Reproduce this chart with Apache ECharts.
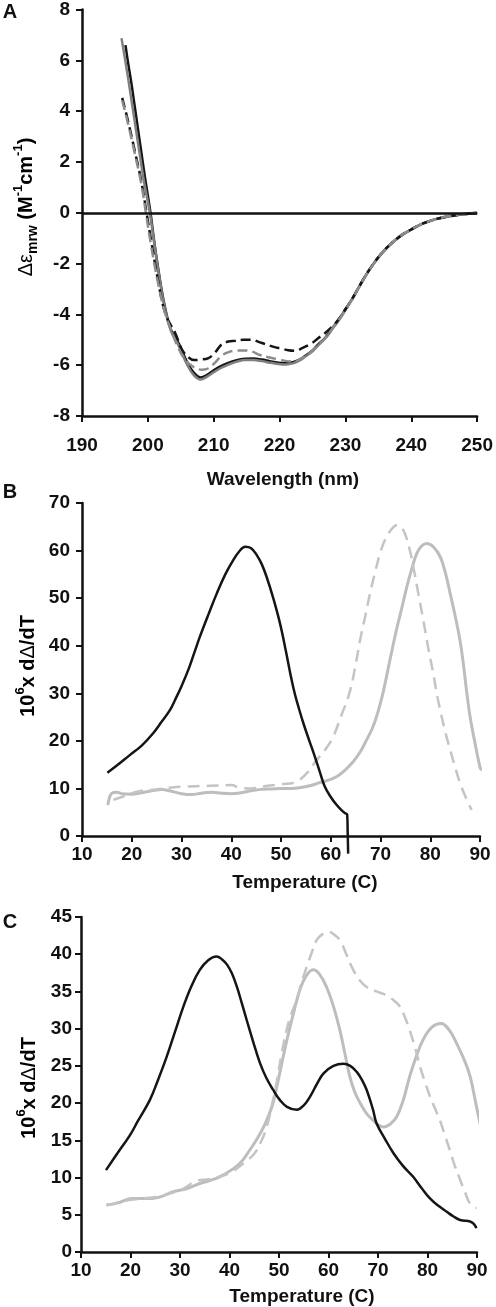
<!DOCTYPE html>
<html>
<head>
<meta charset="utf-8">
<script src="https://cdn.jsdelivr.net/npm/echarts@6/dist/echarts.min.js"></script>
<style>
html,body{margin:0;padding:0;background:#fff;}
#chart{width:496px;height:1307px;}
</style>
</head>
<body>
<div id="chart"></div>
<script>
// ---------- Panel A: CD spectra (wavelength nm, Δε) ----------
const aBlackSolid = [[196.6,6.6],[197,5.9],[197.5,5.1],[198,4.2],[198.5,3.3],[199,2.4],[199.5,1.5],[200.4,0],[201,-1.2],[202,-2.9],[202.7,-3.84],[203.5,-4.6],[204.7,-5.15],[206,-5.9],[207,-6.3],[208,-6.48],[209,-6.38],[210,-6.2],[211,-6.05],[212.3,-5.9],[213.5,-5.8],[214.8,-5.75],[216,-5.74],[217.3,-5.78],[218.5,-5.84],[219.8,-5.9],[221,-5.92],[222,-5.88],[223,-5.78],[223.8,-5.65],[225,-5.42],[225.8,-5.2],[227,-4.9],[228,-4.55],[229,-4.2],[230,-3.8],[231,-3.4],[232,-2.95],[233,-2.5],[234,-2.1],[235,-1.75],[236,-1.45],[237,-1.2],[238,-0.98],[239,-0.8],[240,-0.66],[241,-0.52],[242,-0.4],[243,-0.31],[244,-0.23],[245,-0.18],[246,-0.13],[247,-0.09],[248,-0.06],[249,-0.03],[250,-0.01]];
const aGraySolid = [[196,6.87],[196.5,6.1],[197,5.3],[197.5,4.45],[198,3.6],[198.5,2.75],[199,1.9],[199.5,1.1],[200.3,0],[201,-1.25],[202,-2.95],[202.7,-3.9],[203.5,-4.65],[204.7,-5.25],[206,-6.0],[207,-6.4],[208,-6.56],[209,-6.45],[210,-6.28],[211,-6.12],[212.3,-5.97],[213.5,-5.86],[214.8,-5.8],[216,-5.8],[217.3,-5.84],[218.5,-5.9],[219.8,-5.95],[221,-5.97],[222,-5.93],[223,-5.82],[223.8,-5.68],[225,-5.45],[225.8,-5.24],[227,-4.93],[228,-4.58],[229,-4.23],[230,-3.83],[231,-3.42],[232,-2.97],[233,-2.52],[234,-2.12],[235,-1.77],[236,-1.47],[237,-1.21],[238,-0.99],[239,-0.81],[240,-0.66],[241,-0.52],[242,-0.4],[243,-0.31],[244,-0.23],[245,-0.17],[246,-0.12],[247,-0.08],[248,-0.05],[249,-0.02],[250,0]];
const aBlackDashed = [[196.1,4.52],[197,3.6],[198,2.45],[199,1.25],[199.8,0],[200.5,-1.1],[201.5,-2.6],[202.7,-4.0],[204.2,-4.76],[205.2,-5.4],[206.2,-5.7],[207,-5.8],[208,-5.78],[209.2,-5.72],[210.2,-5.5],[211.2,-5.18],[212.2,-5.07],[213.3,-5.04],[214.5,-5.0],[215.8,-5.0],[216.8,-5.08],[217.8,-5.17],[219,-5.27],[220.3,-5.35],[221.3,-5.41],[222.3,-5.43],[223.5,-5.32],[224.8,-5.15],[225.8,-4.95],[226.8,-4.76],[228,-4.48],[229,-4.18],[230,-3.8],[231,-3.4],[232,-2.95],[233,-2.5],[234,-2.1],[235,-1.75],[236,-1.45],[237,-1.2],[238,-0.98],[239,-0.8],[240,-0.66],[241,-0.52],[242,-0.4],[243,-0.31],[244,-0.23],[245,-0.18],[246,-0.13],[247,-0.09],[248,-0.06],[249,-0.03],[250,-0.01]];
const aGrayDashed = [[196.1,4.42],[197,3.5],[198,2.35],[199,1.15],[199.7,0],[200.5,-1.3],[201.5,-2.7],[202.5,-3.84],[203.5,-4.6],[204.6,-5.3],[205.7,-5.8],[207,-6.08],[208.2,-6.18],[209.2,-6.12],[210.2,-5.9],[211.2,-5.62],[212.3,-5.48],[213.3,-5.43],[214.5,-5.42],[215.8,-5.46],[217,-5.6],[218.5,-5.7],[220,-5.78],[221.5,-5.85],[222.5,-5.83],[223.8,-5.66],[225,-5.43],[225.8,-5.22],[227,-4.92],[228,-4.57],[229,-4.22],[230,-3.82],[231,-3.41],[232,-2.96],[233,-2.51],[234,-2.11],[235,-1.76],[236,-1.46],[237,-1.2],[238,-0.98],[239,-0.8],[240,-0.66],[241,-0.52],[242,-0.4],[243,-0.31],[244,-0.23],[245,-0.17],[246,-0.12],[247,-0.08],[248,-0.05],[249,-0.02],[250,0]];

// ---------- Panel B: thermal derivative (T °C, 10^6 x dΔ/dT) ----------
const bBlackSolid = [[15.1,13.3],[17,14.8],[19.6,17.0],[22,19.0],[24.3,21.6],[26,24],[27.7,26.5],[28.7,28.6],[30,31.5],[31.5,35.3],[32.6,38.6],[33.7,41.9],[35.5,46.8],[37.1,51],[38.8,55],[40.4,58],[41.6,59.8],[42.8,60.8],[44,60.5],[45.1,59.1],[46.1,57.2],[47.1,54.5],[48.5,49.8],[49.8,44.7],[51,38.8],[52,33.5],[52.8,29.8],[53.6,26.8],[54.5,23.7],[55.7,20],[56.8,16.7],[57.8,13.5],[58.8,10.4],[60,8.2],[61.2,6.5],[62.1,5.5],[62.9,4.8],[63.3,4.5],[63.4,1],[63.5,-3.7]];
const bGraySolid = [[15.2,6.5],[15.5,8],[16,9],[17,9.2],[18,8.9],[20,8.8],[22,9.1],[24,9.5],[26,9.8],[28,9.4],[30,8.9],[32,8.7],[34,9.0],[36,9.2],[38,9.0],[40,8.9],[42,9.1],[44,9.5],[46,9.8],[48,9.9],[50,10.0],[52,10.0],[54,10.2],[56,10.6],[58,11.3],[60.5,12.1],[62.5,13.5],[64.5,15.6],[66,17.8],[67.2,20.2],[68.3,22.5],[69.2,25.1],[70,28],[70.6,30.5],[71.9,37],[73.2,43.3],[74.3,48],[75.3,52.4],[76.3,56.2],[77.3,59.4],[78.3,61],[79.3,61.5],[80.6,60.8],[82,58.7],[83,55.5],[84,51],[85,46.3],[86,41],[86.7,35.8],[87.3,30.5],[88,25.1],[89,19.5],[90,14.5],[90.4,13.8]];
const bGrayDashed = [[16.3,7.6],[18,8.2],[20,9.0],[22,9.5],[25,9.8],[28,10.2],[30.8,10.4],[34,10.5],[37.5,10.6],[40,10.7],[41.6,10.2],[44,10.0],[47,10.5],[50,10.9],[52.8,11.3],[55,13],[57.2,16],[59,18.3],[60.5,20.9],[62,25],[63.8,30.2],[65,36],[65.9,41.2],[67,46.5],[67.9,51],[69,55.8],[69.9,59.4],[70.8,62],[71.6,63.6],[72.5,64.8],[73.3,65.4],[74.1,64.9],[74.9,63.6],[75.8,60.5],[76.6,56.6],[77.6,51],[78.6,45.4],[79.6,39.5],[80.6,34.2],[81.3,30],[82,26.5],[83,22],[84,18.1],[85,14.5],[86,11.1],[87.2,8],[88.3,5.5]];

// ---------- Panel C ----------
const cBlackSolid = [[15.05,11.0],[17.5,13.4],[19.9,15.7],[21.5,17.6],[23.9,20.4],[25.5,23],[27.3,26.2],[29,29.6],[30.7,33],[32.3,35.7],[34,37.9],[35.7,39.2],[37.4,39.7],[38.5,39.3],[39.5,38.6],[40.5,37.4],[41.5,35.6],[42.5,33.4],[43.5,31.1],[44.8,28.2],[46.2,25.3],[47.5,23.3],[48.8,21.8],[50.2,20.4],[51.6,19.5],[53.6,19.1],[55,19.7],[56.3,20.9],[57.6,22.5],[59,24],[61,25],[63,25.3],[64.4,25],[65.7,24.2],[66.7,23.2],[67.7,21.8],[69,19.1],[69.7,17.3],[71.4,15.2],[73.1,13.3],[75,11.6],[77.1,10.1],[78.8,8.6],[80.5,7.2],[82.2,6.2],[83.9,5.4],[85.2,4.8],[86.6,4.3],[88.6,4.1],[89.3,3.8],[89.9,3.2]];
const cGraySolid = [[15.1,6.3],[17.5,6.6],[20.4,7.2],[24.4,7.2],[26.5,7.5],[28.6,8.1],[31.3,8.5],[34,9.2],[36,9.6],[38,10.1],[40.8,11.2],[42.5,12.2],[44.1,13.7],[45.5,15.1],[46.9,16.8],[48,18.5],[48.8,20],[50.2,24.2],[51.6,28.5],[52.9,32],[54.2,35.2],[55.5,37.1],[56.9,37.9],[58.2,37.3],[59.6,35.6],[61,33],[62.3,29.8],[63.3,26.7],[64.3,23.6],[65.3,21.5],[66.4,20],[67.7,18.6],[69,17.7],[70,17.1],[71.1,16.8],[72.5,17.2],[73.8,18.2],[75.1,20.4],[76.4,23.6],[77.7,26.2],[79.1,28.5],[80.9,30.2],[82.8,30.7],[84.4,29.8],[85.9,28],[87.3,26],[88.6,23.6],[89.9,19.5],[90.6,17.3],[91.2,15.5]];
const cGrayDashed = [[15.3,6.3],[20,7.0],[25,7.4],[30,8.3],[33.5,9.6],[36,9.8],[40,10.6],[43,12.0],[45,13.2],[46.5,15],[47.6,17],[48.5,19.5],[49.5,22.7],[50.5,26.5],[51.6,30],[52.6,32.2],[53.6,33.9],[54.6,36.3],[55.6,38.3],[56.6,40.2],[57.6,41.9],[58.8,42.7],[60,43],[61.2,42.6],[62.3,41.9],[63.6,40],[65,37.9],[66.3,36.5],[67.7,35.6],[69.7,35],[71.7,34.5],[73,33.9],[74.4,33],[75.4,31.6],[76.4,29.8],[77.5,27.4],[78.5,24.9],[79.5,22.8],[80.5,20.9],[81.5,19.3],[82.5,17.7],[83.5,15.7],[84.5,13.7],[85.5,11.6],[86.6,9.7],[87.6,8],[88.6,6.5],[89.9,5.9]];

// ---------- Axis ranges / labels ----------
const aXRange = [190, 250, 10];
const aYRange = [-8, 8, 2];
const bXRange = [10, 90, 10];
const bYRange = [0, 70, 10];
const cXRange = [10, 90, 10];
const cYRange = [0, 45, 5];
const panelLabels = ['A', 'B', 'C'];
const aXTitle = 'Wavelength (nm)';
const tempTitle = 'Temperature (C)';

const FONT = 'Liberation Sans, Arial, sans-serif';
const INK = '#111111';

function axisCfg(gi, r, fs, margin) {
  return {
    type: 'value', gridIndex: gi, min: r[0], max: r[1], interval: r[2],
    axisLine: { show: true, onZero: false, lineStyle: { color: INK, width: 2.5 } },
    axisTick: { show: true, length: 6, lineStyle: { color: INK, width: 2 } },
    axisLabel: { color: INK, fontFamily: FONT, fontWeight: 'bold', fontSize: fs, margin: margin, showMinLabel: true, showMaxLabel: true },
    splitLine: { show: false }
  };
}
function line(gi, data, color, width, dash, extra) {
  return Object.assign({
    type: 'line', xAxisIndex: gi, yAxisIndex: gi, data: data,
    showSymbol: false, symbol: 'none', smooth: 0.4, clip: false, silent: true,
    animation: false,
    lineStyle: { color: color, width: width, type: dash || 'solid' }
  }, extra || {});
}

const chart = echarts.init(document.getElementById('chart'), null, { renderer: 'canvas' });

const yTitleRich = {
  g: { fontFamily: FONT, fontSize: 20, fontWeight: 'normal', color: INK, lineHeight: 24, verticalAlign: 'bottom' },
  n: { fontFamily: FONT, fontSize: 20, fontWeight: 'bold', color: INK, lineHeight: 24, verticalAlign: 'bottom' },
  s: { fontFamily: FONT, fontSize: 14, fontWeight: 'bold', color: INK, lineHeight: 12, verticalAlign: 'bottom', padding: [0,0,-4,0] },
  p: { fontFamily: FONT, fontSize: 13, fontWeight: 'bold', color: INK, lineHeight: 12, verticalAlign: 'top' }
};

function labelText(x, y, t, size) {
  return { type: 'text', x: x, y: y, silent: true,
    style: { text: t, fill: INK, font: 'bold ' + size + 'px ' + FONT, align: 'center', verticalAlign: 'middle' } };
}

const option = {
  backgroundColor: '#ffffff',
  animation: false,
  grid: [
    { left: 82, top: 8, width: 399, height: 408 },
    { left: 82, top: 503, width: 398, height: 333 },
    { left: 81, top: 917, width: 396, height: 335 }
  ],
  xAxis: [axisCfg(0, aXRange, 19, 20), axisCfg(1, bXRange, 19, 9), axisCfg(2, cXRange, 19, 9)],
  yAxis: [axisCfg(0, aYRange, 19, 12), axisCfg(1, bYRange, 19, 12), axisCfg(2, cYRange, 19, 9)],
  series: [
    line(0, aBlackSolid, '#151515', 2.5, 'solid', {
      markLine: { silent: true, symbol: 'none', label: { show: false },
        lineStyle: { color: INK, width: 2.5, type: 'solid' }, data: [{ yAxis: 0 }] }
    }),
    line(0, aGraySolid, '#808080', 2.5),
    line(0, aBlackDashed, '#151515', 2.5, [10, 5]),
    line(0, aGrayDashed, '#8c8c8c', 2.5, [10, 5]),

    line(1, bGraySolid, '#bdbdbd', 3),
    line(1, bGrayDashed, '#c4c4c4', 2.5, [12, 7]),
    line(1, bBlackSolid, '#151515', 2.5),

    line(2, cGraySolid, '#bdbdbd', 3),
    line(2, cGrayDashed, '#c4c4c4', 2.5, [12, 7]),
    line(2, cBlackSolid, '#151515', 2.5)
  ],
  graphic: [
    labelText(10, 12, panelLabels[0], 20),
    labelText(10, 492, panelLabels[1], 20),
    labelText(10, 922, panelLabels[2], 20),
    labelText(283, 480, aXTitle, 19),
    labelText(305, 883, tempTitle, 19),
    labelText(302, 1297, tempTitle, 19),
    { type: 'text', x: 24, y: 207, rotation: Math.PI / 2, silent: true,
      style: { text: '{g|Δε}{s|mrw}{n| (M}{p|-1}{n|cm}{p|-1}{n|)}', rich: yTitleRich, align: 'center', verticalAlign: 'middle' } },
    { type: 'text', x: 26, y: 666, rotation: Math.PI / 2, silent: true,
      style: { text: '{n|10}{p|6}{n|x d}{g|Δ}{n|/dT}', rich: yTitleRich, align: 'center', verticalAlign: 'middle' } },
    { type: 'text', x: 27, y: 1088, rotation: Math.PI / 2, silent: true,
      style: { text: '{n|10}{p|6}{n|x d}{g|Δ}{n|/dT}', rich: yTitleRich, align: 'center', verticalAlign: 'middle' } }
  ]
};
chart.setOption(option);
</script>
</body>
</html>
